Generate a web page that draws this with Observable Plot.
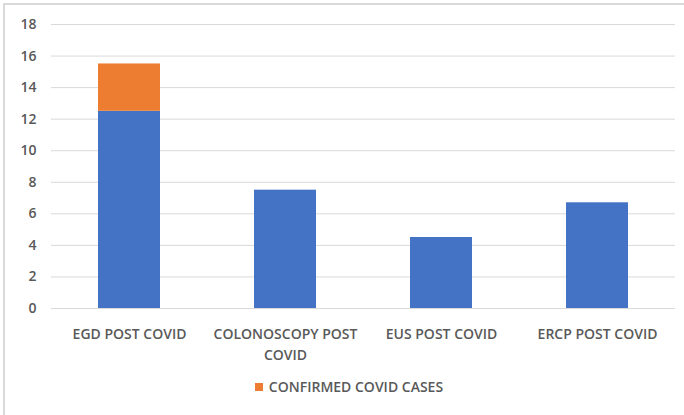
<!DOCTYPE html>
<html>
<head>
<meta charset="utf-8">
<script src="https://cdn.jsdelivr.net/npm/d3@7"></script>
<script src="https://cdn.jsdelivr.net/npm/@observablehq/plot@0.6"></script>
<style>
  html, body { margin: 0; padding: 0; background: #fff; }
  #frame { position: absolute; left: 3px; top: 3px; width: 690px; height: 420px;
           border-top: 2px solid #d9d9d9; border-left: 2px solid #d9d9d9; }
  #chart { position: absolute; left: 0; top: 0; }
  #legend { position: absolute; left: 0; top: 377px; width: 684px; text-align: center; padding-left: 14px; box-sizing: border-box;
            font-family: "Open Sans", sans-serif; font-weight: 600; font-size: 14px; color: #595959; }
  #legend .sw { display: inline-block; width: 8px; height: 8px; background: #ED7D31; margin-right: 6px; vertical-align: 1px; }
</style>
</head>
<body>
<div id="frame"></div>
<div id="chart"></div>
<div id="legend"><span class="sw"></span>CONFIRMED COVID CASES</div>
<script>
const categories = ["EGD POST COVID", "COLONOSCOPY POST COVID", "EUS POST COVID", "ERCP POST COVID"];
const tickLabels = ["EGD POST COVID", "COLONOSCOPY POST\nCOVID", "EUS POST COVID", "ERCP POST COVID"];
const procedureValues = [12.5, 7.5, 4.5, 6.7];
const covidValues = [3, 0, 0, 0];
const yTicks = [0, 2, 4, 6, 8, 10, 12, 14, 16, 18];
const seriesNames = ["Procedures", "CONFIRMED COVID CASES"];

const rows = [];
categories.forEach((c, i) => {
  rows.push({cat: c, series: seriesNames[0], value: procedureValues[i]});
  rows.push({cat: c, series: seriesNames[1], value: covidValues[i]});
});
const labelOf = new Map(categories.map((c, i) => [c, tickLabels[i]]));

const plot = Plot.plot({
  width: 684,
  height: 370,
  marginLeft: 51,
  marginRight: 9,
  marginTop: 24,
  marginBottom: 62,
  style: {fontFamily: "Open Sans, sans-serif", fontSize: "14px", fontWeight: 600, color: "#595959", background: "transparent"},
  x: {domain: categories, paddingInner: 0.6, paddingOuter: 0.3, label: null},
  y: {domain: [0, 18], ticks: yTicks, label: null},
  color: {domain: seriesNames, range: ["#4472C4", "#ED7D31"]},
  marks: [
    Plot.gridY(yTicks, {stroke: "#d9d9d9", strokeOpacity: 1, strokeWidth: 1}),
    Plot.barY(rows, {x: "cat", y: "value", fill: "series", order: seriesNames}),
    Plot.axisY({ticks: yTicks, tickSize: 0, tickPadding: 15, fontSize: 14, fill: "#595959", label: null}),
    Plot.axisX({tickSize: 0, tickPadding: 16, fontSize: 14, fill: "#595959", label: null,
                tickFormat: d => labelOf.get(d), lineHeight: 1.5})
  ]
});
document.getElementById("chart").appendChild(plot);
</script>
</body>
</html>
